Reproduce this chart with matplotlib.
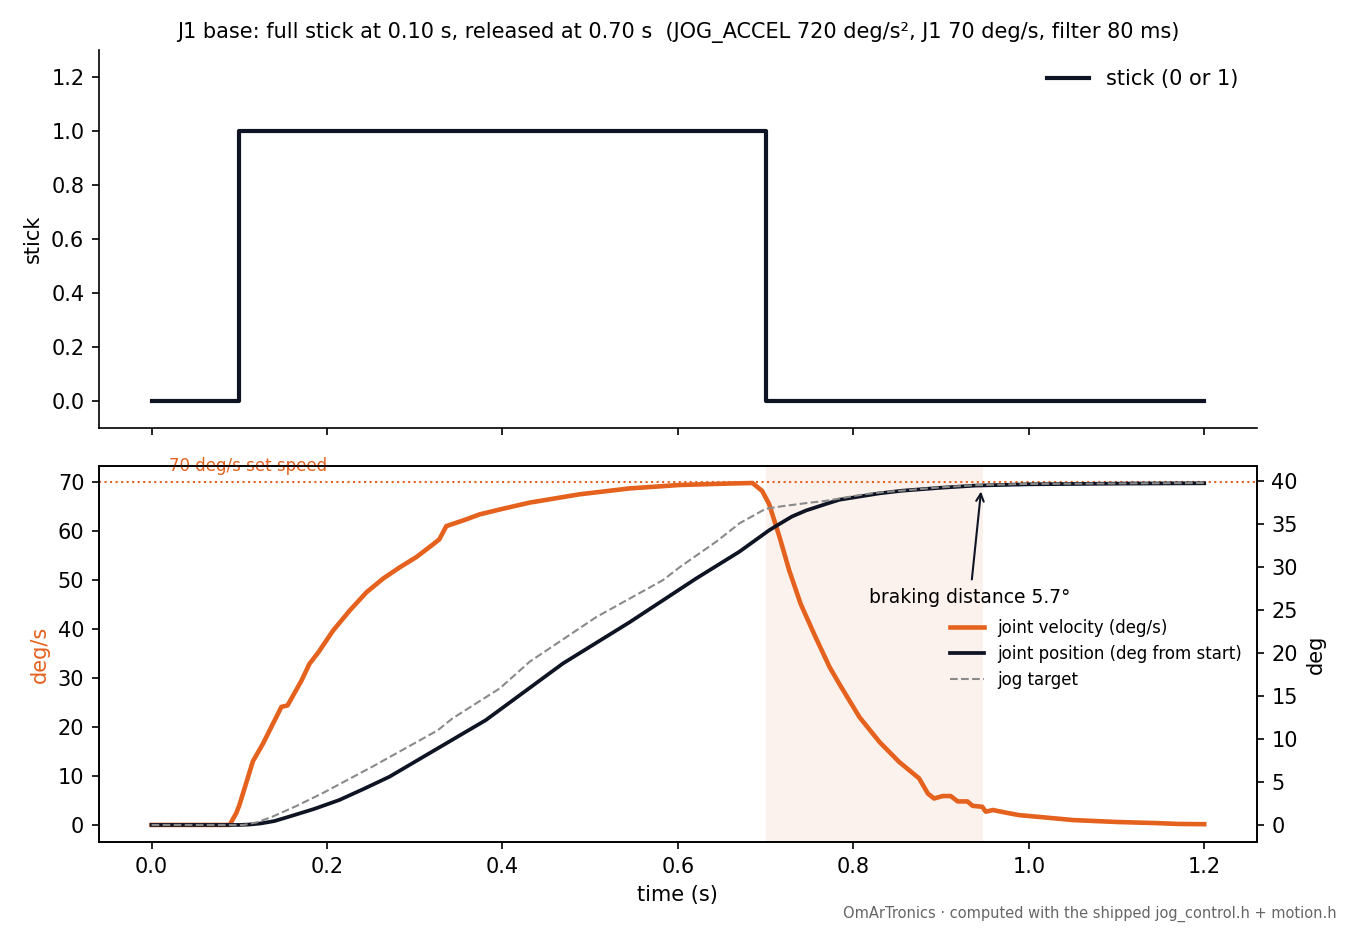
import numpy as np
import matplotlib.pyplot as plt

ORANGE = '#e4611e'
DARK = '#0f1424'
GREY = '#8a8a8a'

# stick input
stick_t = [0.0, 0.1, 0.7, 1.2]
stick_v = [0, 1, 0, 0]

# joint velocity (deg/s)
vel_t = [0.0, 0.089, 0.0965, 0.100, 0.1155, 0.127, 0.148, 0.155, 0.171, 0.180,
         0.190, 0.207, 0.226, 0.245, 0.264, 0.283, 0.302, 0.321, 0.328, 0.336,
         0.359, 0.374, 0.397, 0.431, 0.488, 0.545, 0.602, 0.659, 0.685, 0.696,
         0.704, 0.716, 0.727, 0.740, 0.757, 0.773, 0.784, 0.807, 0.830, 0.852,
         0.875, 0.885, 0.892, 0.902, 0.911, 0.919, 0.930, 0.936, 0.947, 0.951,
         0.959, 0.974, 0.989, 1.02, 1.05, 1.1, 1.15, 1.17, 1.2]
vel = [0, 0, 2.4, 4.0, 13.0, 16.6, 24.1, 24.4, 29.5, 32.9,
       35.2, 39.7, 43.8, 47.5, 50.3, 52.6, 54.7, 57.3, 58.3, 61.0,
       62.4, 63.4, 64.4, 65.8, 67.5, 68.7, 69.4, 69.7, 69.8, 68.2,
       65.5, 58.7, 51.9, 45.1, 38.3, 32.2, 28.8, 22.0, 16.9, 12.9,
       9.5, 6.4, 5.4, 5.9, 5.9, 4.8, 4.8, 3.9, 3.7, 2.7,
       3.05, 2.5, 2.0, 1.5, 1.0, 0.6, 0.35, 0.2, 0.15]

# joint position (deg from start)
pos_t = [0.0, 0.1, 0.112, 0.125, 0.140, 0.157, 0.185, 0.214, 0.242, 0.271,
         0.326, 0.381, 0.469, 0.545, 0.621, 0.670, 0.704, 0.712, 0.730, 0.746,
         0.770, 0.784, 0.830, 0.855, 0.9, 0.939, 1.0, 1.1, 1.2]
pos = [0, 0, 0.05, 0.18, 0.45, 0.97, 1.85, 2.9, 4.2, 5.6,
       8.9, 12.2, 18.8, 23.6, 28.7, 31.8, 34.3, 34.8, 35.9, 36.6,
       37.4, 37.85, 38.6, 38.9, 39.25, 39.5, 39.65, 39.73, 39.77]

# jog target
tgt_t = [0.0, 0.105, 0.120, 0.138, 0.165, 0.195, 0.252, 0.326, 0.343, 0.397,
         0.431, 0.507, 0.583, 0.602, 0.644, 0.659, 0.670, 0.686, 0.700, 0.719,
         0.749, 0.767, 0.813, 0.830, 0.9, 0.939, 1.0, 1.2]
tgt = [0, 0, 0.3, 0.97, 2.2, 3.7, 6.8, 11.0, 12.4, 15.9,
       19.0, 24.2, 28.5, 30.0, 33.0, 34.2, 35.1, 36.0, 36.8, 37.1,
       37.5, 37.7, 38.5, 38.7, 39.3, 39.55, 39.7, 39.8]

release_t = 0.70
stop_t = 0.948
set_speed = 70
brake_dist = 5.7

fig = plt.figure(figsize=(9, 6.2), dpi=150)
ax1 = fig.add_axes([0.0733, 0.540, 0.8577, 0.406])
ax2 = fig.add_axes([0.0733, 0.0946, 0.8577, 0.4044], sharex=ax1)

# top: stick
ax1.step(stick_t, stick_v, where='post', color=DARK, lw=2, label='stick (0 or 1)')
ax1.set_ylim(-0.1, 1.3)
ax1.set_yticks(np.arange(0, 1.21, 0.2))
ax1.set_ylabel('stick')
ax1.spines['top'].set_visible(False)
ax1.spines['right'].set_visible(False)
ax1.tick_params(labelbottom=False)
ax1.legend(loc='upper right', frameon=False, fontsize=10)
ax1.set_title('J1 base: full stick at 0.10 s, released at 0.70 s  (JOG_ACCEL 720 deg/s², J1 70 deg/s, filter 80 ms)',
              fontsize=10)

# bottom: velocity + position
ax2.axvspan(release_t, stop_t, color=ORANGE, alpha=0.08, lw=0)
l1, = ax2.plot(vel_t, vel, color=ORANGE, lw=2.2, label='joint velocity (deg/s)')
ax2.axhline(set_speed, color=ORANGE, ls=':', lw=1)
ax2.text(0.02, set_speed + 1.5, '70 deg/s set speed', color=ORANGE, fontsize=8, va='bottom')
ax2.set_ylabel('deg/s', color=ORANGE)
ax2.set_xlabel('time (s)')
ax2.set_xlim(-0.06, 1.26)

ax3 = ax2.twinx()
l2, = ax3.plot(pos_t, pos, color=DARK, lw=1.8, label='joint position (deg from start)')
l3, = ax3.plot(tgt_t, tgt, color=GREY, lw=1, ls='--', label='jog target')
ax3.set_ylabel('deg')
ax3.annotate(f'braking distance {brake_dist}°', xy=(0.946, 39.3), xytext=(0.933, 26.5),
             ha='center', va='center', fontsize=9,
             arrowprops=dict(arrowstyle='->', color=DARK, lw=1))

ax3.legend(handles=[l1, l2, l3], loc='center right', frameon=False, fontsize=8)

fig.text(0.99, 0.009, 'OmArTronics · computed with the shipped jog_control.h + motion.h',
         ha='right', va='bottom', fontsize=7, color='#666666')

fig.savefig('out.png', dpi=150)
